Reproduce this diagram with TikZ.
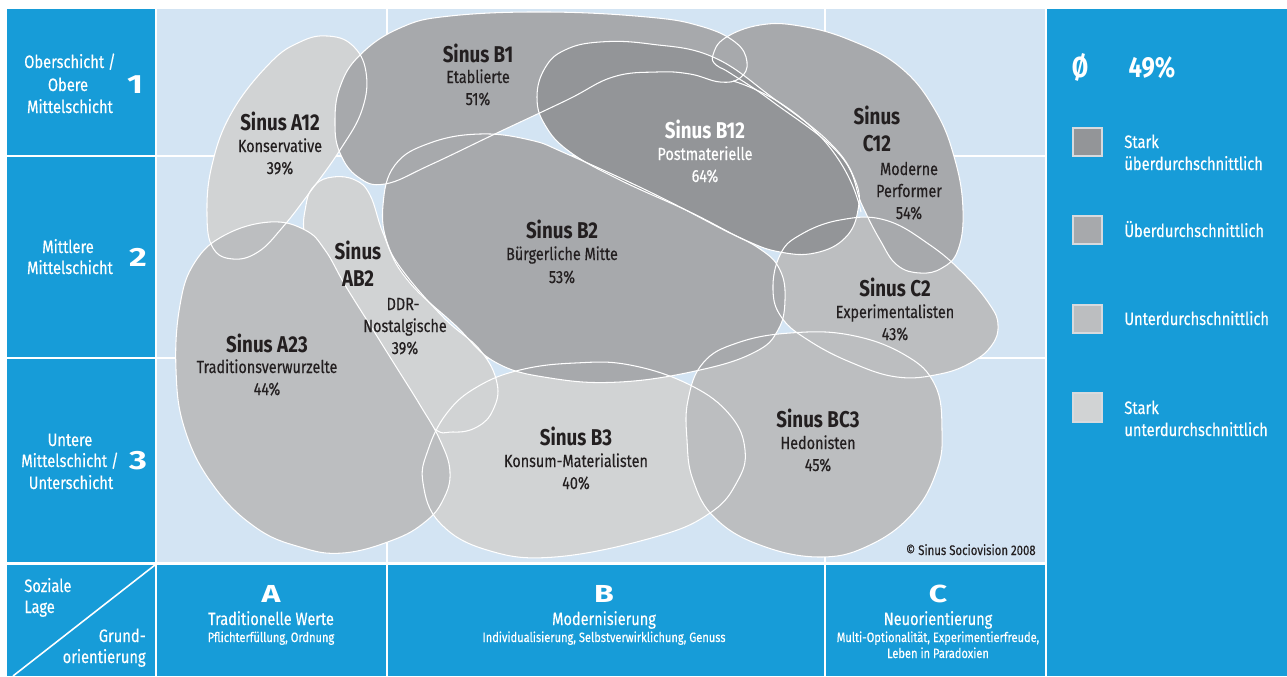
\documentclass[tikz,border=0pt]{standalone}
\usepackage{fontspec}
\setmainfont[FakeStretch=0.82,UprightFeatures={FakeBold=0.35}]{Fira Sans}
\newfontfamily\widefont[FakeStretch=1.3]{Fira Sans}

\definecolor{sblue}{RGB}{23,156,216}
\definecolor{paleblue}{RGB}{211,228,243}
\definecolor{gOne}{RGB}{209,211,212}
\definecolor{gTwo}{RGB}{188,190,192}
\definecolor{gThree}{RGB}{167,169,172}
\definecolor{gFour}{RGB}{147,149,152}
\definecolor{ink}{RGB}{35,31,32}
\definecolor{boxedge}{RGB}{215,218,222}

% milieu outlines (pixel coordinates, y downwards)
\newcommand\blobAtw{plot[smooth cycle,tension=0.7] coordinates {(327,36) (352,45) (366,72) (362,110) (340,150) (310,192) (282,228) (258,252) (233,259) (213,248) (207,215) (212,165) (232,112) (270,63) (300,42)}}
\newcommand\blobAtt{plot[smooth cycle,tension=0.7] coordinates {(270,222) (305,230) (325,250) (345,285) (370,325) (395,365) (420,405) (440,440) (450,472) (443,500) (425,522) (393,540) (343,553) (300,547) (255,527) (213,485) (185,430) (176,370) (180,305) (195,262) (225,235)}}
\newcommand\blobABt{plot[smooth cycle,tension=0.7] coordinates {(333,177) (355,180) (370,195) (383,233) (400,267) (443,317) (480,350) (497,383) (493,410) (477,427) (453,432) (430,425) (385,370) (330,290) (306,240) (306,205) (315,185)}}
\newcommand\blobBo{plot[smooth cycle,tension=0.7] coordinates {(400,28) (450,16) (547,12) (647,17) (700,26) (735,42) (747,62) (740,78) (720,82) (690,74) (657,72) (613,77) (567,100) (497,133) (430,165) (385,184) (358,177) (340,153) (335,123) (340,87) (360,55)}}
\newcommand\blobBot{plot[smooth cycle,tension=0.7] coordinates {(537,97) (545,68) (565,50) (600,42) (650,44) (713,57) (773,98) (830,143) (855,180) (858,210) (845,238) (815,253) (780,252) (745,240) (690,212) (620,180) (570,152) (545,125)}}
\newcommand\blobBt{plot[smooth cycle,tension=0.7] coordinates {(383,205) (395,165) (430,143) (480,134) (530,140) (567,154) (650,192) (720,228) (760,249) (780,270) (785,300) (778,330) (755,352) (700,370) (620,382) (550,378) (495,362) (455,325) (410,283) (388,245)}}
\newcommand\blobBth{plot[smooth cycle,tension=0.7] coordinates {(477,387) (520,370) (575,363) (630,365) (690,385) (730,415) (745,450) (737,482) (710,513) (655,537) (555,557) (487,550) (440,523) (423,483) (428,450) (447,413)}}
\newcommand\blobCot{plot[smooth cycle,tension=0.7] coordinates {(713,55) (725,38) (760,25) (800,26) (850,40) (900,67) (935,110) (955,160) (963,210) (958,250) (942,268) (920,273) (897,265) (880,240) (862,205) (840,155) (773,102) (730,73) (716,65)}}
\newcommand\blobCt{plot[smooth cycle,tension=0.7] coordinates {(773,290) (780,255) (800,235) (840,220) (885,220) (930,245) (965,275) (990,305) (998,325) (992,345) (972,362) (940,374) (897,377) (850,362) (808,340) (782,318)}}
\newcommand\blobBCth{plot[smooth cycle,tension=0.7] coordinates {(687,440) (688,400) (703,363) (737,343) (790,333) (850,335) (905,355) (935,385) (942,430) (937,470) (913,513) (870,545) (820,557) (760,545) (715,518) (693,480)}}

\begin{document}
\begin{tikzpicture}[x=0.02cm,y=-0.02cm,
  cell/.style={fill=sblue},
  grid/.style={draw=white,line width=1.1pt},
  rim/.style={draw=white,line width=0.6pt},
  ttl/.style={anchor=base,inner sep=0,text=ink,font=\fontsize{13}{14}\selectfont\bfseries},
  sub/.style={anchor=base,inner sep=0,text=ink,font=\fontsize{10}{11}\selectfont},
  side/.style={anchor=base,inner sep=0,text=white,font=\fontsize{10.2}{12}\selectfont},
  bignum/.style={anchor=base,inner sep=0,text=white,font=\widefont\bfseries\fontsize{15}{16}\selectfont},
  bigletter/.style={bignum,font=\widefont\bfseries\fontsize{14}{15}\selectfont},
  axhead/.style={anchor=base,inner sep=0,text=white,font=\fontsize{10.1}{12}\selectfont},
  axsub/.style={anchor=base,inner sep=0,text=white,font=\fontsize{7.7}{9}\selectfont},
  legbox/.style={draw=boxedge,line width=0.6pt},
  legtext/.style={anchor=base west,inner sep=0,text=white,font=\fontsize{10.2}{12}\selectfont},
  avg/.style={anchor=base,inner sep=0,text=white,font=\fontsize{16.5}{18}\selectfont\bfseries}]

\useasboundingbox (0,0) rectangle (1287,676);
\fill[white] (0,0) rectangle (1287,676);

% frame of the grid
\fill[cell] (7,9) rectangle (155,155);
\fill[cell] (7,157) rectangle (155,357);
\fill[cell] (7,359) rectangle (155,562);
\fill[cell] (7,565) rectangle (155,676);
\fill[cell] (157,565) rectangle (386,676);
\fill[cell] (388,565) rectangle (824,676);
\fill[cell] (826,565) rectangle (1045,676);
\fill[cell] (1047,9) rectangle (1287,676);
\fill[paleblue] (157,9) rectangle (1045,562);
\draw[grid] (387,9) -- (387,562);
\draw[grid] (825,9) -- (825,562);
\draw[grid] (157,156) -- (1045,156);
\draw[grid] (157,358) -- (1045,358);
\draw[white,line width=0.9pt] (13,676) -- (155,565);

% milieu areas, lighter shades below darker ones
\fill[gOne] \blobAtw;
\fill[gOne] \blobABt;
\fill[gOne] \blobBth;
\fill[gTwo] \blobCt;
\fill[gTwo] \blobBCth;
\fill[gThree] \blobBo;
\fill[gThree] \blobBt;
\fill[gThree] \blobCot;
\fill[gFour] \blobBot;
\path[rim] \blobABt;
\fill[gTwo] \blobAtt;

% outlines on top
\path[rim] \blobAtw;
\path[rim] \blobBth;
\path[rim] \blobCt;
\path[rim] \blobBCth;
\path[rim] \blobBo;
\path[rim] \blobBt;
\path[rim] \blobCot;
\path[rim] \blobBot;
\path[rim] \blobAtt;
\path[rim] (733,81) .. controls (780,95) and (845,140) .. (861,212);

% milieu labels
\node[ttl] (a12t) at (280,130) {Sinus A12};
\node[sub] (a12s) at (280,152) {Konservative};
\node[sub] (a12p) at (280,174) {39\%};
\node[ttl] (b1t) at (478,62) {Sinus B1};
\node[sub] (b1s) at (478,83) {Etablierte};
\node[sub] (b1p) at (478,105) {51\%};
\node[ttl,text=white] (b12t) at (705,138) {Sinus B12};
\node[sub,text=white] (b12s) at (705,160) {Postmaterielle};
\node[sub,text=white] (b12p) at (705,182) {64\%};
\node[ttl] (c12t) at (877,124) {Sinus};
\node[ttl] (c12n) at (877,151) {C12};
\node[sub] (c12s) at (909,175) {Moderne};
\node[sub] (c12r) at (909,197) {Performer};
\node[sub] (c12p) at (909,219) {54\%};
\node[ttl] (b2t) at (562,238) {Sinus B2};
\node[sub] (b2s) at (562,260) {Bürgerliche Mitte};
\node[sub] (b2p) at (562,283) {53\%};
\node[ttl] (ab2t) at (358,259) {Sinus};
\node[ttl] (ab2n) at (358,286) {AB2};
\node[sub] (ab2s) at (403,310) {DDR-};
\node[sub] (ab2r) at (405,332) {Nostalgische};
\node[sub] (ab2p) at (405,354) {39\%};
\node[ttl] (a23t) at (267,352) {Sinus A23};
\node[sub] (a23s) at (267,373) {Traditionsverwurzelte};
\node[sub] (a23p) at (267,395) {44\%};
\node[ttl] (c2t) at (895,296) {Sinus C2};
\node[sub] (c2s) at (895,318) {Experimentalisten};
\node[sub] (c2p) at (895,340) {43\%};
\node[ttl] (b3t) at (576,445) {Sinus B3};
\node[sub] (b3s) at (576,467) {Konsum-Materialisten};
\node[sub] (b3p) at (576,489) {40\%};
\node[ttl] (bc3t) at (818,427) {Sinus BC3};
\node[sub] (bc3s) at (818,449) {Hedonisten};
\node[sub] (bc3p) at (818,471) {45\%};
\node[anchor=base east,inner sep=0,text=ink,font=\fontsize{7.9}{10}\selectfont] (copy) at (1036,555) {© Sinus Sociovision 2008};

% social class axis
\node[side] (r1a) at (70,68) {Oberschicht /};
\node[side] (r1b) at (68,91) {Obere};
\node[side] (r1c) at (70,113) {Mittelschicht};
\node[bignum] (r1n) at (135,93) {1};
\node[side] (r2a) at (68,253) {Mittlere};
\node[side] (r2b) at (70,274) {Mittelschicht};
\node[bignum] (r2n) at (138,266) {2};
\node[side] (r3a) at (70,446) {Untere};
\node[side] (r3b) at (70,467) {Mittelschicht /};
\node[side] (r3c) at (71,489) {Unterschicht};
\node[bignum] (r3n) at (138,469) {3};
\node[side,anchor=base west] (lage1) at (24,592) {Soziale};
\node[side,anchor=base west] (lage2) at (24,613) {Lage};
\node[side,anchor=base east] (gr1) at (146,642) {Grund-};
\node[side,anchor=base east] (gr2) at (146,663) {orientierung};

% value orientation axis
\node[bigletter] (colA) at (271,602) {A};
\node[axhead] (colAh) at (271,625) {Traditionelle Werte};
\node[axsub] (colAs) at (271,642) {Pflichterfüllung, Ordnung};
\node[bigletter] (colB) at (604,602) {B};
\node[axhead] (colBh) at (604,625) {Modernisierung};
\node[axsub] (colBs) at (604,642) {Individualisierung, Selbstverwirklichung, Genuss};
\node[bigletter] (colC) at (938,602) {C};
\node[axhead] (colCh) at (938,625) {Neuorientierung};
\node[axsub] (colCs) at (938,642) {Multi-Optionalität, Experimentierfreude,};
\node[axsub] (colCt) at (938,658) {Leben in Paradoxien};

% legend
\node[avg] (avgsym) at (1080,77) {Ø};
\node[avg] (avgval) at (1152,77) {49\%};
\filldraw[legbox,fill=gFour] (1073,128) rectangle (1102,156);
\filldraw[legbox,fill=gThree] (1073,216) rectangle (1102,244);
\filldraw[legbox,fill=gTwo] (1073,305) rectangle (1102,333);
\filldraw[legbox,fill=gOne] (1073,393) rectangle (1102,422);
\node[legtext] (l1a) at (1124,148) {Stark};
\node[legtext] (l1b) at (1124,170) {überdurchschnittlich};
\node[legtext] (l2) at (1124,237) {Überdurchschnittlich};
\node[legtext] (l3) at (1124,325) {Unterdurchschnittlich};
\node[legtext] (l4a) at (1124,414) {Stark};
\node[legtext] (l4b) at (1124,436) {unterdurchschnittlich};
\end{tikzpicture}
\end{document}
